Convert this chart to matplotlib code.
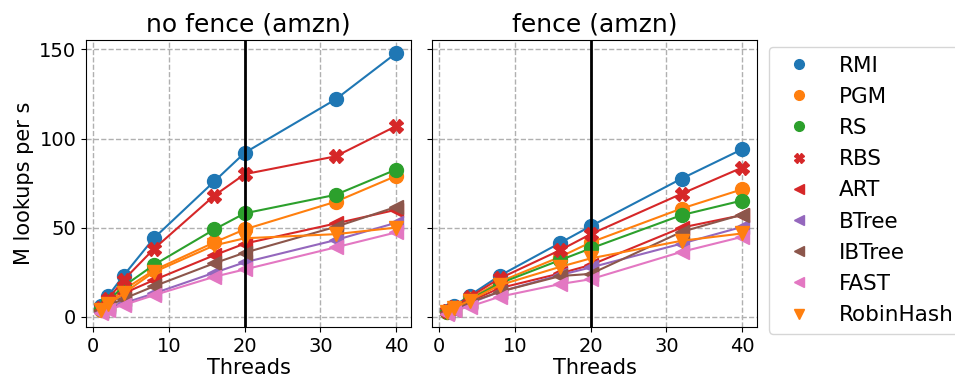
import matplotlib
matplotlib.use("Agg")
import matplotlib.pyplot as plt
from matplotlib.lines import Line2D

threads = [1, 2, 4, 8, 16, 20, 32, 40]
names = ["RMI", "PGM", "RS", "RBS", "ART", "BTree", "IBTree", "FAST", "RobinHash"]
colors = ["#1f77b4", "#ff7f0e", "#2ca02c", "#d62728", "#d62728", "#9467bd", "#8c564b", "#e377c2", "#ff7f0e"]
markers = ["o", "o", "o", "X", "<", "<", "<", "<", "v"]

no_fence = {
    "RMI":       [6.2, 11.8, 23, 44, 76, 92, 122, 148],
    "PGM":       [4, 8, 15, 26, 41.7, 49, 64.5, 79],
    "RS":        [4.5, 9, 17, 29, 49, 58, 68.4, 82.6],
    "RBS":       [5, 10, 20.5, 38, 68, 80, 90, 107],
    "ART":       [3.5, 7, 13, 20.5, 34.5, 41, 52.3, 60],
    "BTree":     [2.5, 5, 7.5, 13, 24.7, 30.5, 43, 52.7],
    "IBTree":    [3, 6, 10, 17, 30, 35.9, 50.4, 61.6],
    "FAST":      [2, 4, 6.5, 12, 22.4, 26.5, 38.9, 47.3],
    "RobinHash": [3.5, 7, 13, 25, 40, 44, 46.3, 50],
}
fence = {
    "RMI":       [3, 6, 11.8, 23, 41.5, 50.8, 77.5, 94],
    "PGM":       [2.8, 5, 10, 19.6, 33.6, 41.7, 60.7, 71.5],
    "RS":        [2.7, 5, 9.5, 18.7, 31.8, 38.3, 57, 65.2],
    "RBS":       [3, 5.5, 11, 21.5, 37.4, 46.3, 69, 83.7],
    "ART":       [2.5, 4.5, 8.5, 16, 24.3, 29, 50, 57],
    "BTree":     [2, 4, 7.5, 14, 23.4, 27.6, 41, 50.4],
    "IBTree":    [2, 4, 8, 14, 22.8, 24, 47.6, 57.3],
    "FAST":      [1.5, 3.5, 5.6, 11.2, 18.3, 21, 36.4, 44.8],
    "RobinHash": [2.5, 5, 9, 17.7, 28, 32.7, 42.6, 46.7],
}
titles = ["no fence (amzn)", "fence (amzn)"]
ylabel = "M lookups per s"
xlabel = "Threads"

fig = plt.figure(figsize=(9.55, 3.83), dpi=100)
ax1 = fig.add_axes([86/955, 1-327/383, 325/955, 287/383])
ax2 = fig.add_axes([432/955, 1-327/383, 325/955, 287/383], sharey=ax1)

for ax, data, title in zip([ax1, ax2], [no_fence, fence], titles):
    for n, c, m in zip(names, colors, markers):
        ax.plot(threads, data[n], color=c, marker=m, markersize=10, lw=1.5)
    ax.axvline(20, color="black", lw=2)
    ax.grid(True, linestyle="--", color="#b0b0b0", lw=1)
    ax.set_title(title, fontsize=18)
    ax.set_xlabel(xlabel, fontsize=15, labelpad=2)
    ax.tick_params(labelsize=14)
    ax.set_xticks([0, 10, 20, 30, 40])
    ax.set_yticks([0, 50, 100, 150])
ax1.set_ylabel(ylabel, fontsize=15)
plt.setp(ax2.get_yticklabels(), visible=False)

handles = [Line2D([], [], color=c, marker=m, linestyle="none", markersize=7)
           for c, m in zip(colors, markers)]
fig.legend(handles, names, loc="upper left", bbox_to_anchor=(769/955, 1-47/383),
           borderaxespad=0, fontsize=15.5, frameon=True, labelspacing=0.52,
           handletextpad=0.86, borderpad=0.4)

fig.savefig("out.png", dpi=100)
